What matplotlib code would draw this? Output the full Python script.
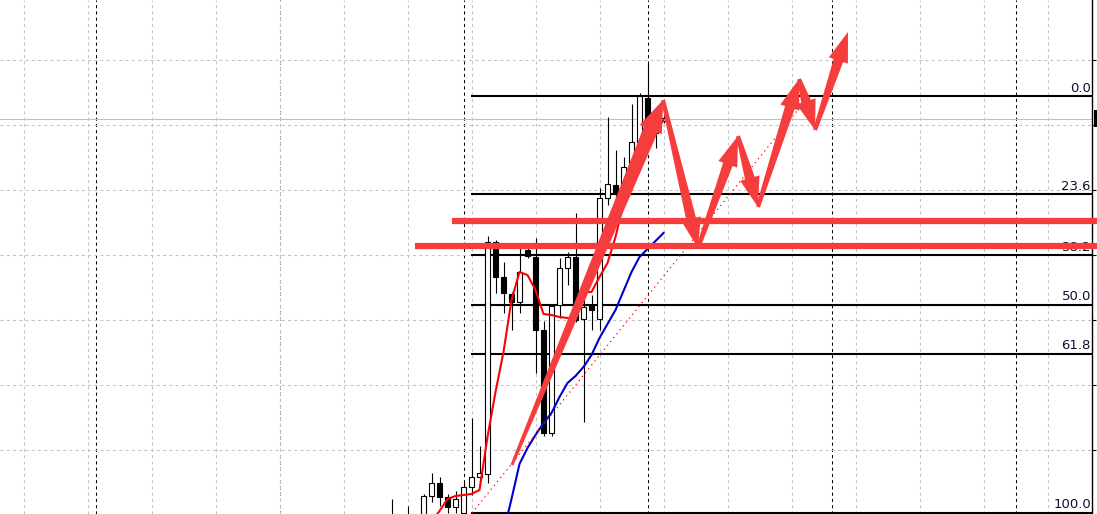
import numpy as np
import matplotlib.pyplot as plt
import matplotlib.transforms as mtransforms
from matplotlib.patches import Polygon, Rectangle

# price axis is kept in screen rows of the original chart (smaller = higher price)
# bars are numbered from the first visible one, one bar = 8 px
opens = [522, 530, 524, 530, 520, 496, 483, 497, 507, 513, 487, 477, 474, 242, 277, 294, 302, 250,
         257, 330, 433, 305, 268, 257, 319, 305, 319, 198, 185, 193, 167, 142, 98, 133, 121]
highs = [499, 518, 506, 517, 494, 473, 477, 494, 491, 482, 418, 446, 236, 240, 262, 292, 243, 243,
         238, 321, 305, 258, 252, 213, 296, 295, 188, 117, 150, 157, 104, 93, 63, 113, 115]
lows = [540, 545, 540, 545, 525, 502, 506, 513, 513, 516, 495, 485, 483, 293, 313, 330, 313, 258,
        373, 436, 436, 318, 285, 322, 422, 330, 330, 205, 205, 200, 175, 150, 140, 148, 123]
closes = [516, 524, 518, 522, 496, 483, 497, 507, 499, 487, 477, 473, 242, 277, 293, 302, 272, 256,
          330, 433, 306, 268, 257, 320, 307, 310, 198, 184, 193, 167, 142, 96, 125, 121, 118]

nan = np.nan
ma_fast = [nan, nan, nan, nan, nan, 522, 511, 499, 496, 495, 494, 490, 437, 392, 352, 300, 272, 275,
           290, 314, 315, 317, 318, 318, 292, 292, 277, 263, 237, 203, 172, 152, 145, 132, 120]
ma_slow = [nan, nan, nan, nan, nan, nan, nan, nan, nan, nan, nan, nan, nan, nan, 532, 499, 464, 448,
           435, 423, 413, 397, 383, 376, 367, 355, 338, 324, 310, 291, 272, 257, 249, 241, 233]

fib_top = 96
fib_bottom = 513
fib_levels = [0.0, 23.6, 38.2, 50.0, 61.8, 100.0]
fib_start = 9.94

trend_x = [10.06, 51.3]
trend_y = [513, 105]

support_y = [221, 246]
support_start = [7.56, 2.94]

zigzag_x = [15.06, 33.94, 38.31, 43.31, 45.81, 50.94, 52.94, 57.06]
zigzag_y = [465, 100, 248, 136, 207, 79, 130, 32]

bid = 118.5
grid_y = [60, 125, 190, 255, 320, 385, 450]
grid_x = np.arange(-46, 88, 8)
separators = np.arange(-37, 88, 23)

RED = '#f53d3d'

fig = plt.figure(figsize=(10.97, 5.14), dpi=100)
ax = fig.add_axes([0, 0, 1092 / 1097, 1])
ax.set_xlim(-391.5 / 8, (1092 - 391.5) / 8)
ax.set_ylim(514, 0)

for s in ['left', 'top', 'bottom']:
    ax.spines[s].set_visible(False)
ax.spines['right'].set_linewidth(1.0)
ax.yaxis.tick_right()
ax.set_yticks(grid_y)
ax.set_xticks(grid_x)
ax.tick_params(axis='y', length=3, width=0.8, labelright=False, labelleft=False)
ax.tick_params(axis='x', length=0, labelbottom=False)
ax.grid(True, color='#c4c4c4', linewidth=0.75, linestyle=(0, (3, 3)), zorder=0)

for sx in separators:
    ax.axvline(sx + 0.06, color='black', linewidth=0.75, linestyle=(0, (3, 3)), zorder=1)
ax.axhline(bid, color='#c0c0c0', linewidth=0.75, zorder=1)

# fibonacci retracement
for lev in fib_levels:
    y = fib_top + (fib_bottom - fib_top) * lev / 100
    ax.hlines(y, fib_start, 200, color='black', linewidth=1.5, zorder=2)
    ax.text((1091 - 391.5) / 8, y - 1.5, f"{lev:.1f}", ha='right', va='bottom',
            fontsize=9.5, color='#101030', zorder=3)

# candles
x = np.arange(len(opens))
o = np.array(opens)
c = np.array(closes)
ax.vlines(x, highs, lows, color='black', linewidth=0.8, zorder=3)
up = c < o
ax.bar(x, np.abs(c - o), bottom=np.minimum(o, c), width=0.65,
       color=np.where(up, 'white', 'black'), edgecolor='black', linewidth=0.8, zorder=4)

ax.plot(x, ma_fast, color='#ff0000', linewidth=1.5, zorder=5)
ax.plot(x, ma_slow, color='#0000cc', linewidth=1.5, zorder=5)
ax.plot(trend_x, trend_y, color='#ff0000', linewidth=0.9, linestyle=(0, (1, 3)), zorder=5)


def tapered_arrow(p0, p1, w0, ws, wh, lh):
    a = ax.transData.transform(p0)
    b = ax.transData.transform(p1)
    d = (b - a) / np.linalg.norm(b - a)
    n = np.array([-d[1], d[0]])
    base = b - d * lh
    pts = [a + n * w0 / 2, base + n * ws / 2, base + n * wh / 2, b,
           base - n * wh / 2, base - n * ws / 2, a - n * w0 / 2]
    ax.add_patch(Polygon(pts, closed=True, transform=mtransforms.IdentityTransform(),
                         facecolor=RED, edgecolor='none', zorder=6))


for k in range(len(zigzag_x) - 1):
    p0 = (zigzag_x[k], zigzag_y[k])
    p1 = (zigzag_x[k + 1], zigzag_y[k + 1])
    if k == 0:
        tapered_arrow(p0, p1, 3, 15, 24, 32)
    else:
        tapered_arrow(p0, p1, 4, 10, 20, 30)

for y, xs in zip(support_y, support_start):
    ax.hlines(y, xs, (1097 - 391.5) / 8, color=RED, linewidth=4.5, zorder=7, clip_on=False)

ax.add_patch(Rectangle(((1094 - 391.5) / 8, 110), 3 / 8, 17, facecolor='black',
                       edgecolor='none', clip_on=False, zorder=8))

fig.savefig('out.png', dpi=100)
